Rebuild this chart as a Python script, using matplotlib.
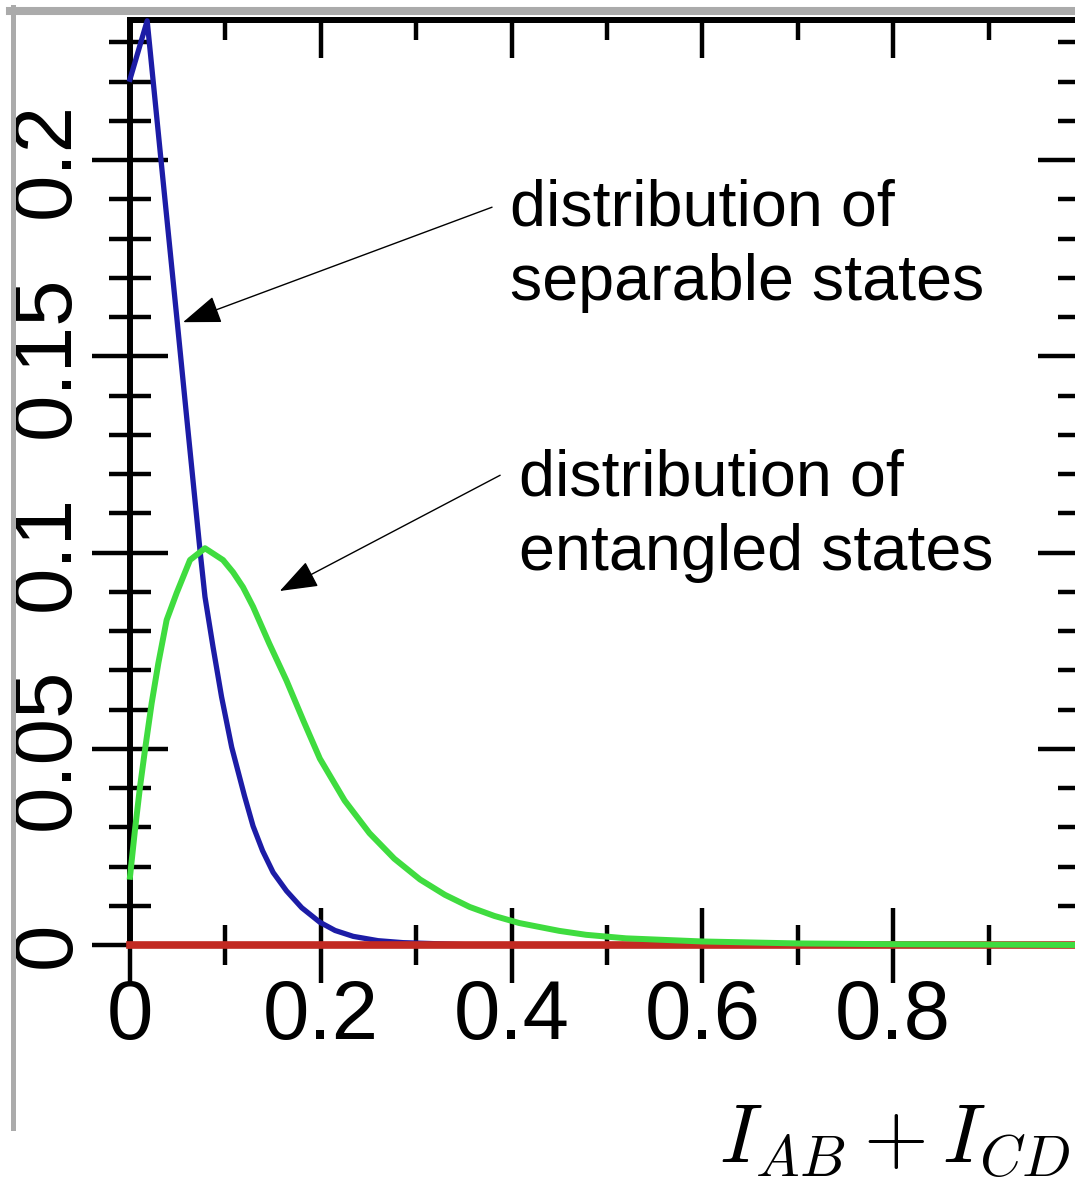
import matplotlib
matplotlib.use("Agg")
import matplotlib.pyplot as plt
from matplotlib.lines import Line2D
from matplotlib.ticker import FixedLocator, MultipleLocator

# --- data -------------------------------------------------------------
sep_x = [0.000, 0.018, 0.0325, 0.049, 0.0596, 0.0734, 0.0786, 0.0870, 0.096,
         0.1066, 0.120, 0.129, 0.139, 0.150, 0.164, 0.180, 0.199, 0.215,
         0.234, 0.26, 0.286, 0.35, 0.40]
sep_y = [0.2206, 0.2355, 0.200, 0.160, 0.134, 0.1005, 0.0887, 0.0760, 0.0632,
         0.0504, 0.0380, 0.0303, 0.0240, 0.0185, 0.0138, 0.0095, 0.0058, 0.0037,
         0.0022, 0.0011, 0.0006, 0.0001, 0.0]

ent_x = [0.0, 0.0052, 0.0105, 0.0157, 0.0227, 0.0297, 0.0384, 0.0489, 0.0629,
         0.0786, 0.0975, 0.108, 0.1184, 0.129, 0.146, 0.164, 0.182, 0.199, 0.225,
         0.251, 0.277, 0.304, 0.330, 0.356, 0.382, 0.408, 0.45, 0.478, 0.52,
         0.6, 0.7, 0.8, 0.9, 1.0]
ent_y = [0.0174, 0.0293, 0.0403, 0.0497, 0.0616, 0.0718, 0.0828, 0.0897, 0.0981,
         0.1011, 0.0981, 0.0950, 0.0912, 0.0862, 0.0768, 0.0674, 0.057, 0.0475,
         0.0368, 0.0285, 0.0220, 0.0167, 0.0128, 0.0097, 0.0074, 0.0056, 0.0036,
         0.0026, 0.0017, 0.0009, 0.0004, 0.0002, 0.0001, 0.0]

base_x = [0.0, 1.0]
base_y = [0.0, 0.0]

x_ticks = [0.0, 0.2, 0.4, 0.6, 0.8]
x_tick_labels = ["0", "0.2", "0.4", "0.6", "0.8"]
y_ticks = [0.0, 0.05, 0.1, 0.15, 0.2]
y_tick_labels = ["0", "0.05", "0.1", "0.15", "0.2"]

label_sep = "distribution of\nseparable states"
label_ent = "distribution of\nentangled states"
x_label = r"$I_{AB}+I_{CD}$"

# --- figure -----------------------------------------------------------
W, H = 1075, 1183
fig = plt.figure(figsize=(W / 100, H / 100), dpi=100)
fig.patch.set_facecolor("white")

x0, x1 = 130, 1084
y0, y1 = 945, 20
ax = fig.add_axes([x0 / W, (H - y0) / H, (x1 - x0) / W, (y0 - y1) / H])
ax.set_xlim(0, 1.0)
ax.set_ylim(0, 0.2357)

ax.plot(sep_x, sep_y, color="#1c1ca6", lw=3.8, zorder=3, clip_on=False,
        solid_joinstyle="round")
ax.plot(base_x, base_y, color="#c22a22", lw=5.5, zorder=4, clip_on=False)
ax.plot(ent_x, ent_y, color="#3fdc3f", lw=4.3, zorder=5, clip_on=False,
        solid_joinstyle="round")

# spines
for side in ("left", "top", "bottom"):
    ax.spines[side].set_linewidth(4.3)
    ax.spines[side].set_color("black")
ax.spines["right"].set_visible(False)

tick_font = dict(family="Liberation Sans", size=60)

ax.xaxis.set_major_locator(FixedLocator(x_ticks))
ax.xaxis.set_minor_locator(MultipleLocator(0.1))
ax.set_xticklabels(x_tick_labels, **tick_font)
ax.yaxis.set_major_locator(FixedLocator(y_ticks))
ax.yaxis.set_minor_locator(MultipleLocator(0.01))
ax.set_yticklabels(y_tick_labels, rotation=90, va="center", **tick_font)

ax.tick_params(axis="both", which="both", direction="inout",
               top=False, right=False, width=3.2, color="black")
ax.tick_params(axis="x", which="major", length=54, pad=-3.5)
ax.tick_params(axis="x", which="minor", length=29)
ax.tick_params(axis="y", which="major", length=55, pad=4)
ax.tick_params(axis="y", which="minor", length=30)

# inward ticks on the top and right edges
top = ax.secondary_xaxis("top")
top.xaxis.set_major_locator(FixedLocator(x_ticks + [1.0]))
top.xaxis.set_minor_locator(MultipleLocator(0.1))
top.tick_params(which="both", direction="in", labeltop=False, width=3.2)
top.tick_params(which="major", length=27)
top.tick_params(which="minor", length=14.5)
top.spines["top"].set_linewidth(4.3)

right = ax.secondary_yaxis("right")
right.yaxis.set_major_locator(FixedLocator(y_ticks))
right.yaxis.set_minor_locator(MultipleLocator(0.01))
right.tick_params(which="both", direction="in", labelright=False, width=3.2)
right.tick_params(which="major", length=33)
right.tick_params(which="minor", length=19)
right.spines["right"].set_linewidth(4.3)

# annotations
arrow = dict(arrowstyle="-|>,head_length=0.6,head_width=0.22",
             mutation_scale=40, lw=1.0, color="black", shrinkA=0, shrinkB=0)
ax.annotate("", xy=(0.0556, 0.1587), xytext=(0.3795, 0.188),
            arrowprops=arrow, zorder=6)
ax.annotate("", xy=(0.157, 0.0902), xytext=(0.388, 0.1197),
            arrowprops=arrow, zorder=6)

note_font = dict(family="Liberation Sans", size=46.5)
ax.text(0.398, 0.1643, label_sep, ha="left", va="baseline",
        linespacing=1.32, **note_font)
ax.text(0.408, 0.0955, label_ent, ha="left", va="baseline",
        linespacing=1.32, **note_font)

fig.text(1070 / W, (H - 1162) / H, x_label, ha="right", va="baseline",
         fontsize=60, math_fontfamily="cm")

# grey frame along the top and left edges
fig.add_artist(Line2D([10 / W, 1.0], [1 - 11 / H, 1 - 11 / H],
                      transform=fig.transFigure, color="#ababab", lw=5.8))
fig.add_artist(Line2D([12.5 / W, 12.5 / W], [1 - 7 / H, 1 - 1128 / H],
                      transform=fig.transFigure, color="#ababab", lw=3.6))

fig.savefig("out.png", dpi=100, facecolor="white")
